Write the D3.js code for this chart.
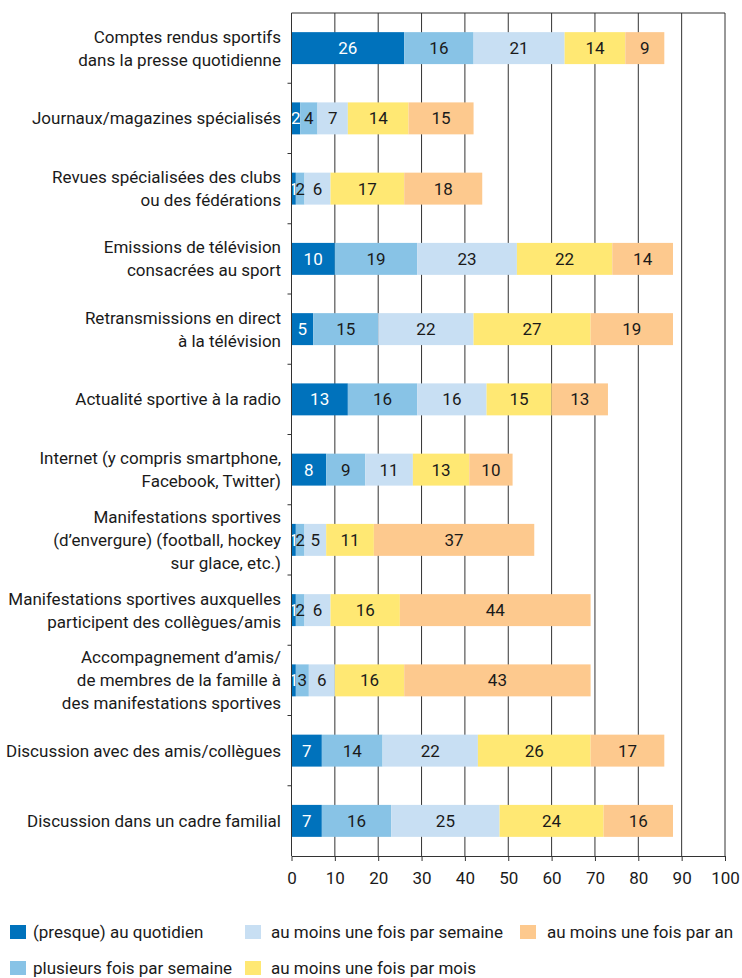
<!DOCTYPE html>
<html>
<head>
<meta charset="utf-8">
<script src="https://cdn.jsdelivr.net/npm/d3@7"></script>
<style>
  body { margin: 0; background: #fff; }
  svg text { font-family: Roboto, "Open Sans", sans-serif; fill: #1a1a1a; }
</style>
</head>
<body>
<div id="chart"></div>
<script>
// Categories (label lines)
const categories = [
  ["Comptes rendus sportifs", "dans la presse quotidienne"],
  ["Journaux/magazines spécialisés"],
  ["Revues spécialisées des clubs", "ou des fédérations"],
  ["Emissions de télévision", "consacrées au sport"],
  ["Retransmissions en direct", "à la télévision"],
  ["Actualité sportive à la radio"],
  ["Internet (y compris smartphone,", "Facebook, Twitter)"],
  ["Manifestations sportives", "(d’envergure) (football, hockey", "sur glace, etc.)"],
  ["Manifestations sportives auxquelles", "participent des collègues/amis"],
  ["Accompagnement d’amis/", "de membres de la famille à", "des manifestations sportives"],
  ["Discussion avec des amis/collègues"],
  ["Discussion dans un cadre familial"]
];

const series = [
  "(presque) au quotidien",
  "plusieurs fois par semaine",
  "au moins une fois par semaine",
  "au moins une fois par mois",
  "au moins une fois par an"
];

const quotidien = [26, 2, 1, 10, 5, 13, 8, 1, 1, 1, 7, 7];
const plusieurs = [16, 4, 2, 19, 15, 16, 9, 2, 2, 3, 14, 16];
const semaine   = [21, 7, 6, 23, 22, 16, 11, 5, 6, 6, 22, 25];
const mois      = [14, 14, 17, 22, 27, 15, 13, 11, 16, 16, 26, 24];
const an        = [9, 15, 18, 14, 19, 13, 10, 37, 44, 43, 17, 16];

const xTicks = [0, 10, 20, 30, 40, 50, 60, 70, 80, 90, 100];

const colors = ["#0072bc", "#88c3e6", "#c8dff3", "#ffe873", "#fdc98e"];

const W = 742, H = 978;
const plotLeft = 291.5, plotRight = 725, plotTop = 13, plotBottom = 856;

const svg = d3.select("#chart").append("svg")
    .attr("width", W)
    .attr("height", H);

const x = d3.scaleLinear().domain([0, 100]).range([plotLeft, plotRight]);
const y = d3.scaleBand()
    .domain(d3.range(categories.length))
    .range([plotTop, plotBottom])
    .paddingInner(0.545)
    .paddingOuter(0.2725);

// Stack the series
const rows = categories.map((c, i) => ({
  i: i, v: [quotidien[i], plusieurs[i], semaine[i], mois[i], an[i]]
}));
const stack = d3.stack()
    .keys(d3.range(series.length))
    .value((d, k) => d.v[k]);
const layers = stack(rows);

// Vertical grid lines
svg.append("g")
  .selectAll("line")
  .data(xTicks.slice(1))
  .join("line")
    .attr("x1", d => x(d))
    .attr("x2", d => x(d))
    .attr("y1", plotTop)
    .attr("y2", plotBottom)
    .attr("stroke", "#333")
    .attr("stroke-width", 1);

// Top border
svg.append("line")
    .attr("x1", plotLeft).attr("x2", plotRight)
    .attr("y1", plotTop).attr("y2", plotTop)
    .attr("stroke", "#333");

// Bars
layers.forEach((layer, k) => {
  const g = svg.append("g");
  g.selectAll("rect")
    .data(layer)
    .join("rect")
      .attr("x", d => x(d[0]))
      .attr("y", d => y(d.data.i))
      .attr("width", d => x(d[1]) - x(d[0]))
      .attr("height", y.bandwidth())
      .attr("fill", colors[k]);
  g.selectAll("text")
    .data(layer)
    .join("text")
      .attr("x", d => (x(d[0]) + x(d[1])) / 2)
      .attr("y", d => y(d.data.i) + y.bandwidth() / 2)
      .attr("dy", "0.36em")
      .attr("text-anchor", "middle")
      .attr("font-size", 17)
      .style("fill", k === 0 ? "#fff" : "#1a1a1a")
      .text(d => d.data.v[k]);
});

// Left axis line and ticks at band boundaries
svg.append("line")
    .attr("x1", plotLeft).attr("x2", plotLeft)
    .attr("y1", plotTop).attr("y2", plotBottom)
    .attr("stroke", "#333");
svg.append("g")
  .selectAll("line")
  .data(d3.range(1, categories.length))
  .join("line")
    .attr("x1", plotLeft - 4)
    .attr("x2", plotLeft)
    .attr("y1", d => y(d) - y.step() * y.paddingInner() / 2)
    .attr("y2", d => y(d) - y.step() * y.paddingInner() / 2)
    .attr("stroke", "#333");

// Category labels
const lineH = 23;
categories.forEach((lines, i) => {
  const cy = y(i) + y.bandwidth() / 2;
  const t = svg.append("text")
      .attr("text-anchor", "end")
      .attr("font-size", 17);
  lines.forEach((s, j) => {
    t.append("tspan")
      .attr("x", 281)
      .attr("y", cy + (j - (lines.length - 1) / 2) * lineH)
      .attr("dy", "0.36em")
      .text(s);
  });
});

// Bottom axis
const xAxis = svg.append("g")
    .attr("transform", `translate(0,${plotBottom})`)
    .call(d3.axisBottom(x).tickValues(xTicks).tickSize(5).tickSizeOuter(0));
xAxis.select(".domain").attr("stroke", "#333");
xAxis.selectAll(".tick line").attr("stroke", "#333");
xAxis.selectAll(".tick text")
    .attr("font-size", 17)
    .attr("font-family", null)
    .attr("dy", "1.15em")
    .style("fill", "#1a1a1a");

// Legend
const legendPos = [
  [10, 932], [10, 968], [245, 932], [245, 968], [520, 932]
];
const legendGap = [23, 23, 26, 26, 27];
series.forEach((s, k) => {
  const [lx, ly] = legendPos[k];
  svg.append("rect")
      .attr("x", lx).attr("y", ly - 7)
      .attr("width", 16).attr("height", 14)
      .attr("fill", colors[k]);
  svg.append("text")
      .attr("x", lx + legendGap[k])
      .attr("y", ly)
      .attr("dy", "0.36em")
      .attr("font-size", 17)
      .text(s);
});
</script>
</body>
</html>
